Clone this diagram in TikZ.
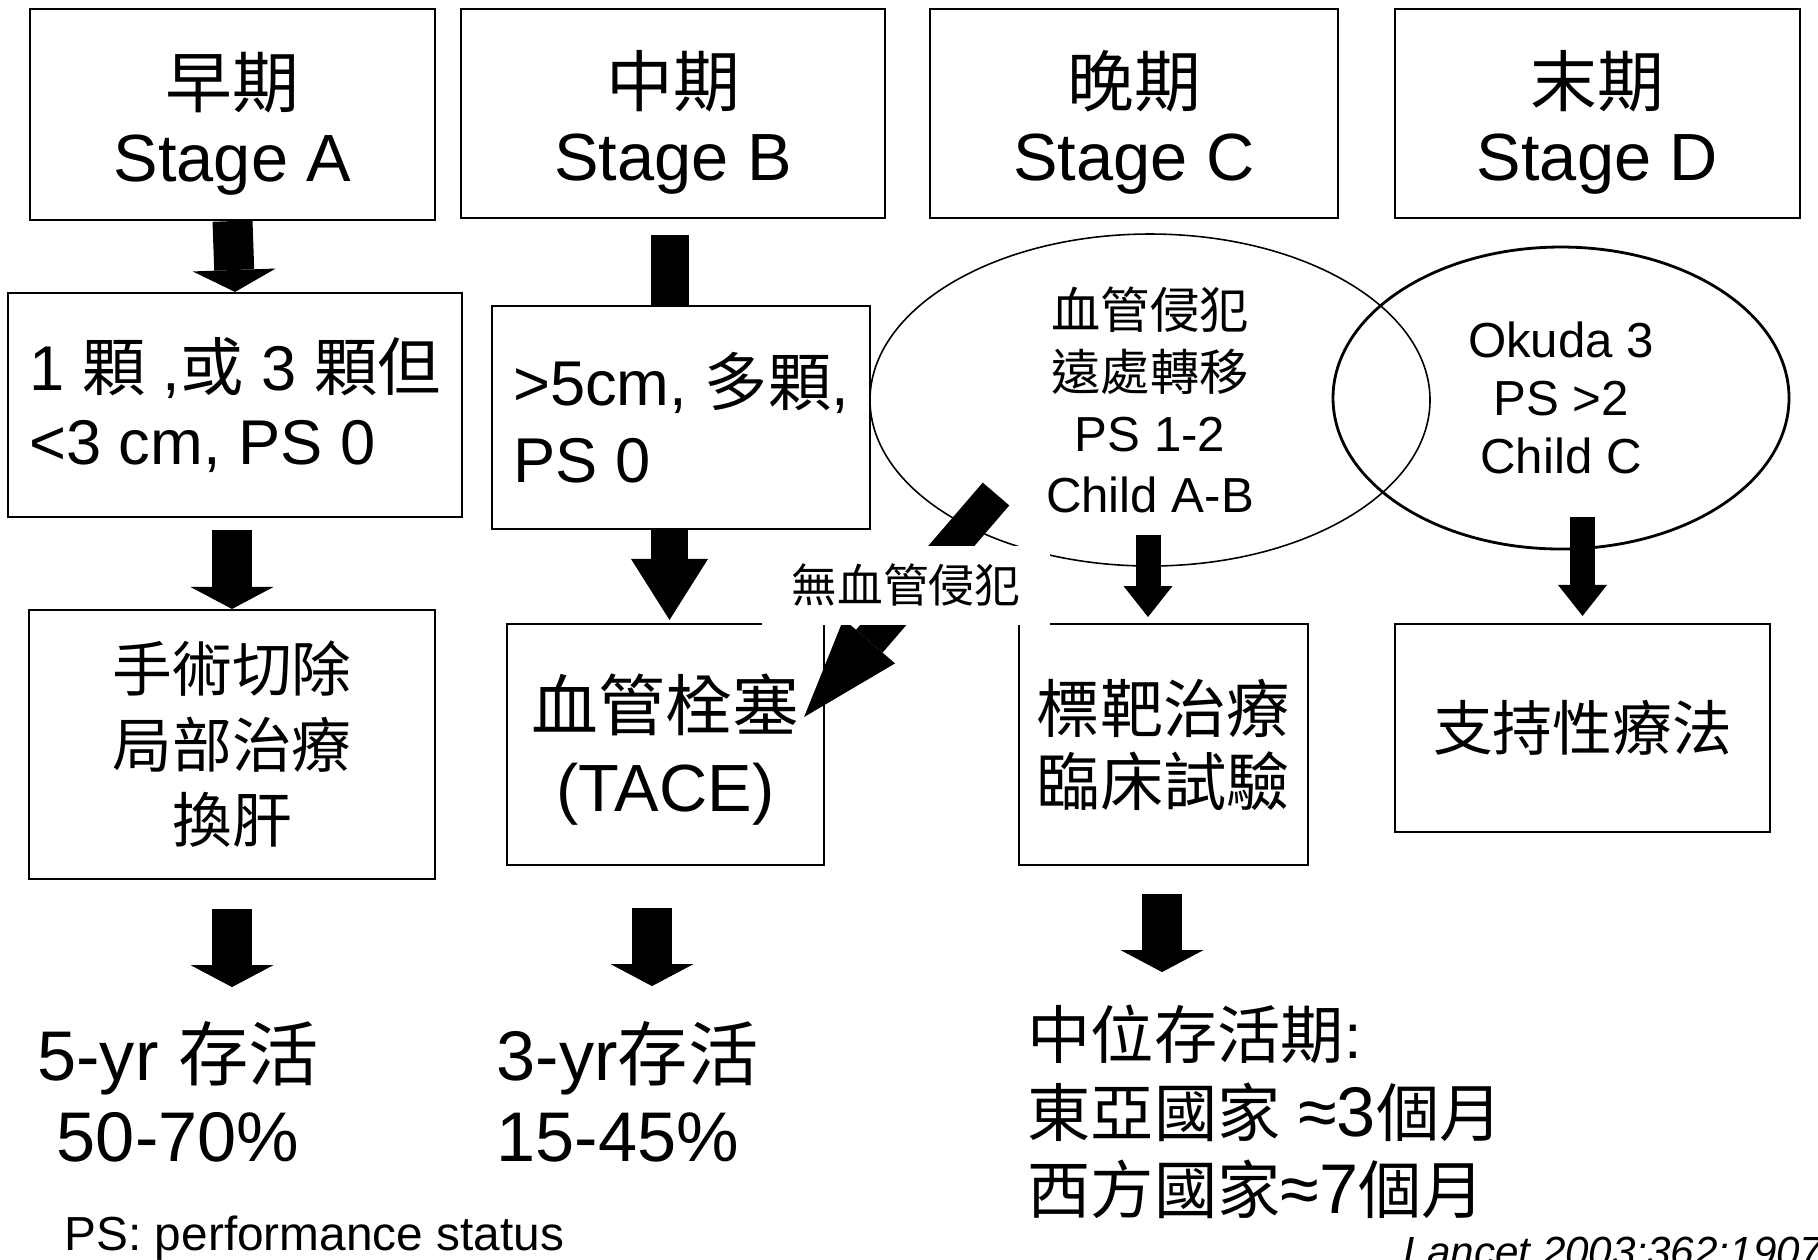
\documentclass[tikz,border=0pt]{standalone}
\usepackage{fontspec}
\setmainfont{Liberation Sans}
\newfontfamily\cjk{Noto Sans CJK TC}
\usepackage{tikz}
\usetikzlibrary{calc,positioning,arrows.meta,shapes.geometric}

\begin{document}
\begin{tikzpicture}[x=0.1mm,y=-0.1mm,
  box/.style={draw,line width=0.6pt,inner sep=0pt,align=center},
  hdr/.style={box,font=\fontsize{19}{21.3}\selectfont,minimum height=20.9mm},
  oval/.style={draw,ellipse,line width=0.45pt,inner sep=0pt,align=center},
  blk/.style={line width=4mm,-{Triangle[width=8.3mm,length=2.2mm,line width=0pt]}},
  blkb/.style={line width=3.7mm,-{Triangle[width=7.7mm,length=6.1mm,line width=0pt]}},
  blks/.style={line width=2.5mm,-{Triangle[width=4.9mm,length=3.1mm,line width=0pt]}},
  blkd/.style={line width=3.5mm,-{Triangle[width=6.8mm,length=10mm,line width=0pt]}},
  bar/.style={line width=3.8mm}]
  \useasboundingbox (0,0) rectangle (1818,1259);
  \fill[white] (0,0) rectangle (1818,1259);
  \clip (0,0) rectangle (1818,1259);

  \node[hdr,minimum width=40.5mm,minimum height=21.1mm] (sa) at (232.5,114.5) {\rule{0pt}{21pt}{\cjk 早期}\\Stage A};
  \node[hdr,minimum width=42.4mm] (sb) at (673,113.5) {\rule{0pt}{21pt}{\cjk 中期}\\Stage B};
  \node[hdr,minimum width=40.8mm] (sc) at (1134,113.5) {\rule{0pt}{21pt}{\cjk 晚期}\\Stage C};
  \node[hdr,minimum width=40.5mm] (sd) at (1597.5,113.5) {\rule{0pt}{21pt}{\cjk 末期}\\Stage D};

  %%%%

  \node[box,align=left,font=\fontsize{18}{21.3}\selectfont,minimum width=45.4mm,minimum height=22.4mm] (sa_crit) at (235,405) {1 {\cjk 顆} ,{\cjk 或} 3 {\cjk 顆但}\\<3 cm, PS 0};
  \node[box,align=left,font=\fontsize{18}{21.9}\selectfont,minimum width=37.8mm,minimum height=22.3mm] (sb_crit) at (681,417.5) {>5cm, {\cjk 多顆},\\PS 0};
  \node[oval,font=\fontsize{14}{17.4}\selectfont,minimum width=56mm,minimum height=33.2mm] (sc_crit) at (1150,400) {{\cjk 血管侵犯}\\{\cjk 遠處轉移}\\PS 1-2\\Child A-B};
  \node[oval,line width=0.8pt,font=\fontsize{14}{16.5}\selectfont,minimum width=45.6mm,minimum height=30.2mm] (sd_crit) at (1561,398) {Okuda 3\\PS >2\\Child C};

  %%%%

  \node[box,font=\cjk\fontsize{17}{21.5}\selectfont,minimum width=40.6mm,minimum height=26.9mm] (sa_tx) at (232,744.5) {手術切除\\局部治療\\換肝};
  \node[box,font=\fontsize{19}{23.3}\selectfont,minimum width=31.7mm,minimum height=24.1mm] (sb_tx) at (665.5,744.5) {\rule{0pt}{19pt}{\cjk 血管栓塞}\\(TACE)};
  \node[box,font=\cjk\fontsize{18}{20.8}\selectfont,minimum width=28.9mm,minimum height=24.1mm] (sc_tx) at (1163.5,744.5) {標靶治療\\臨床試驗};
  \node[box,font=\cjk\fontsize{17}{20}\selectfont,minimum width=37.5mm,minimum height=20.8mm] (sd_tx) at (1582.5,728) {支持性療法};

  %%%%

  \node[align=center,font=\fontsize{20}{23}\selectfont] (sa_surv) at (178,1092) {5-yr {\cjk 存活}\\50-70\%};
  \node[anchor=west,align=left,font=\fontsize{20}{23}\selectfont,inner sep=0pt] (sb_surv) at (496,1092) {3-yr{\cjk 存活}\\15-45\%};
  \node[anchor=west,align=left,font=\fontsize{18}{22}\selectfont,inner sep=0pt] (sc_surv) at (1027,1112) {{\cjk 中位存活期}:\\{\cjk 東亞國家} {\fontsize{20}{22}\selectfont ≈3}{\cjk 個月}\\{\cjk 西方國家}{\fontsize{20}{22}\selectfont ≈7}{\cjk 個月}};

  \node[anchor=base west,inner sep=0pt,font=\fontsize{13.6}{16}\selectfont] (ps_note) at (64,1250) {PS: performance status};
  \node[anchor=base west,inner sep=0pt,font=\itshape\fontsize{12}{14}\selectfont] (ref_note) at (1403,1266) {Lancet 2003;362:1907};

  %%%%

  \draw[blk] (sa.south) -- (sa_crit.north);
  \coordinate (sb_bar) at ($(sb.south)+(-3.5,16)$);
  \draw[bar] (sb_bar) -- (sb_bar |- sb_crit.north);

  \draw[blk] ($(sa_tx.north)+(0,-79)$) -- (sa_tx.north);
  \draw[blkb] ($(sb_tx.north)+(4,-95)$) -- ($(sb_tx.north)+(4,-3)$);
  \draw[blks] ($(sc_crit)+(-2,135)$) -- ($(sc_crit)+(-2,217)$);
  \draw[blks] ($(sd_tx.north)+(0,-106)$) -- ($(sd_tx.north)+(0,-7)$);

  \draw[blkd] ($(sc_crit)+(-154,94)$) -- ($(sb_tx.east)+(-21,-27.5)$);
  \node[fill=white,inner sep=0pt,minimum width=28.8mm,minimum height=7.9mm,font=\cjk\fontsize{13}{15}\selectfont] (no_inv) at (906,585) {無血管侵犯};

  \draw[blk] ($(sa_tx.south)+(0,29)$) -- ($(sa_tx.south)+(0,107)$);
  \draw[blk] ($(sb_tx.south)+(-13.5,42)$) -- ($(sb_tx.south)+(-13.5,120)$);
  \draw[blk] ($(sc_tx.south)+(-1.5,28)$) -- ($(sc_tx.south)+(-1.5,106)$);

\end{tikzpicture}
\end{document}
